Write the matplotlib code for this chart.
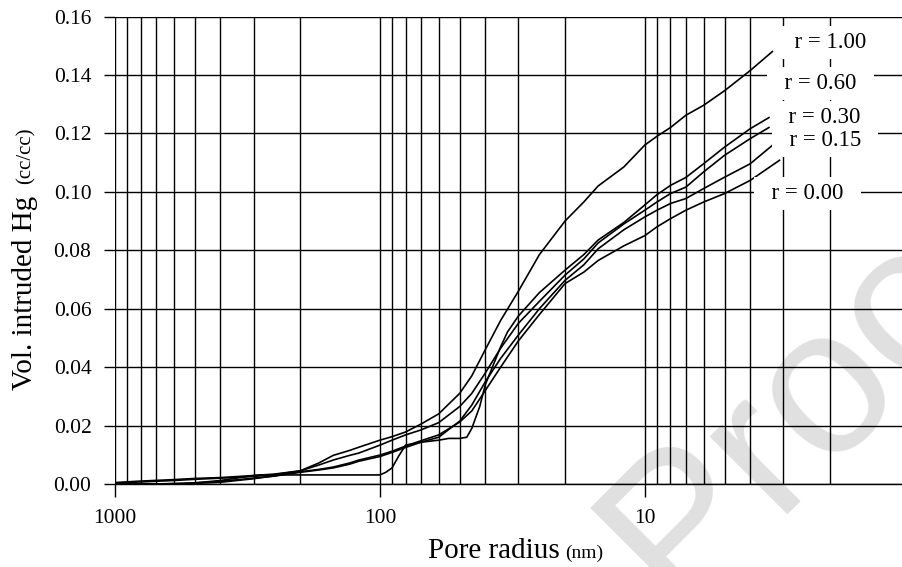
import matplotlib
matplotlib.use('Agg')
import matplotlib.pyplot as plt

plt.rcParams['font.family'] = ['Liberation Serif', 'DejaVu Serif']

# pore radius (nm) and intruded volume (cc/cc)
r100_x = [1000, 800, 600, 500, 400, 300, 250, 200, 170, 150, 130, 120, 100, 90, 80, 70, 60, 50,
          45, 40, 35, 30, 25, 20, 17, 15, 12, 10, 9, 8, 7, 6, 5, 4, 3.3]
r100_y = [.0005, .0010, .0015, .0019, .0022, .0029, .0034, .0045, .0072, .0098, .0115, .0126,
          .0150, .0162, .0178, .0205, .0240, .0310, .0370, .0460, .0560, .0660, .0785, .0900,
          .0965, .1020, .1085, .1160, .1190, .1220, .1262, .1296, .1346, .1415, .1480]

r060_x = [1000, 550, 400, 300, 280, 200, 150, 100, 95, 90, 85, 80, 70, 60, 55, 50, 47, 45, 42,
          40, 35, 33, 30, 25, 20, 17, 15, 12, 10, 9, 8, 7, 6, 5, 4, 3.4]
r060_y = [0, 0, .0012, .0029, .0031, .0031, .0031, .0031, .0040, .0055, .0095, .0133, .0143,
          .0150, .0156, .0156, .0160, .0190, .0265, .0340, .0470, .0520, .0575, .0655, .0732,
          .0785, .0835, .0895, .0955, .0990, .1022, .1049, .1096, .1153, .1216, .1254]

r030_x = [1000, 800, 600, 500, 400, 300, 250, 200, 170, 150, 130, 120, 100, 90, 80, 70, 60, 50,
          45, 40, 35, 30, 25, 20, 17, 15, 12, 10, 9, 8, 7, 6, 5, 4, 3.4]
r030_y = [.0003, .0007, .0012, .0016, .0020, .0026, .0032, .0045, .0065, .0082, .0098, .0106,
          .0133, .0150, .0168, .0185, .0210, .0265, .0310, .0380, .0465, .0550, .0625, .0715,
          .0770, .0825, .0890, .0937, .0965, .0994, .1016, .1068, .1125, .1182, .1220]

r015_x = [1000, 700, 500, 400, 300, 250, 200, 170, 150, 130, 120, 100, 90, 80, 70, 60, 50, 45,
          40, 35, 30, 25, 20, 17, 15, 12, 10, 9, 8, 7, 6, 5, 4, 3.3]
r015_y = [0, 0, .0004, .0009, .0020, .0027, .0040, .0048, .0055, .0068, .0078, .0094, .0108,
          .0125, .0143, .0160, .0215, .0270, .0350, .0430, .0510, .0600, .0697, .0750, .0805,
          .0870, .0914, .0937, .0960, .0977, .1011, .1050, .1096, .1159]

r000_x = [1000, 700, 500, 400, 300, 250, 200, 170, 150, 130, 120, 100, 90, 80, 70, 60, 50, 45,
          40, 35, 30, 25, 20, 17, 15, 12, 10, 9, 8, 7, 6, 5, 4, 3.1]
r000_y = [0, 0, .0002, .0006, .0018, .0028, .0042, .0050, .0058, .0072, .0082, .0099, .0112,
          .0130, .0148, .0168, .0212, .0250, .0320, .0400, .0490, .0580, .0686, .0725, .0765,
          .0815, .0850, .0880, .0908, .0937, .0965, .0994, .1039, .1108]

labels = ['r = 1.00', 'r = 0.60', 'r = 0.30', 'r = 0.15', 'r = 0.00']
label_x = [1.99, 2.17, 2.09, 2.09, 2.43]
label_y = [0.1511, 0.1371, 0.1255, 0.1176, 0.0995]

fig = plt.figure(figsize=(9.03, 5.67), dpi=100)
ax = fig.add_axes([115/903, 1 - 484/567, (903 - 115)/903, (484 - 16.5)/567])
ax.set_xscale('log')

for xs, ys in [(r100_x, r100_y), (r060_x, r060_y), (r030_x, r030_y),
               (r015_x, r015_y), (r000_x, r000_y)]:
    ax.plot(xs, ys, color='black', lw=1.2, zorder=2)

ax.set_xlim(1000, 1.06)
ax.set_ylim(0, 0.16)

ax.set_xticks([1000, 100, 10])
ax.set_xticklabels(['1000', '100', '10'])
minor = [m * d for d in (100, 10, 1) for m in range(2, 10)]
ax.set_xticks(minor, minor=True)
ax.set_xticklabels([], minor=True)
ax.set_yticks([i * 0.02 for i in range(9)])
ax.set_yticklabels(['%.2f' % (i * 0.02) for i in range(9)])

ax.tick_params(axis='x', which='major', direction='out', length=9, width=1, pad=9, labelsize=15.5)
ax.tick_params(axis='x', which='minor', length=0)
ax.tick_params(axis='y', direction='out', length=8, width=1, pad=9, labelsize=15.5)

ax.grid(True, axis='x', which='both', color='black', lw=1.0)
ax.grid(True, axis='y', which='major', color='black', lw=1.0)
for side in ['top', 'right', 'left']:
    ax.spines[side].set_visible(False)
ax.spines['bottom'].set_linewidth(1)

for lab, lx, ly in zip(labels, label_x, label_y):
    ax.text(lx, ly, '  ' + lab + '  ', fontsize=16.5, ha='center', va='center', zorder=4,
            bbox=dict(boxstyle='square,pad=0.25', fc='white', ec='none'))

# faint watermark, drawn before the axes so grid, curves and labels sit on top
fig.text(675/903, 1 - 610/567, 'Proof', fontsize=150, color='#e0e0e0',
         family='Liberation Sans', rotation=45, rotation_mode='anchor',
         ha='left', va='baseline', zorder=-1)
ax.set_facecolor('none')

fig.canvas.draw()
renderer = fig.canvas.get_renderer()

t1 = fig.text(428/903, 1 - 558/567, 'Pore radius', fontsize=21, ha='left', va='baseline')
bb = t1.get_window_extent(renderer)
fig.text((bb.x1 + 5)/903, 1 - 558/567, '(nm)', fontsize=14, ha='left', va='baseline')

t2 = fig.text(25/903, 1 - 293/567, 'Vol. intruded Hg', fontsize=21, rotation=90,
              ha='center', va='center')
bb = t2.get_window_extent(renderer)
fig.text(26/903, (bb.y1 + 12)/567, '(cc/cc)', fontsize=15, rotation=90,
         ha='center', va='bottom')

fig.savefig('out.png', dpi=100)
